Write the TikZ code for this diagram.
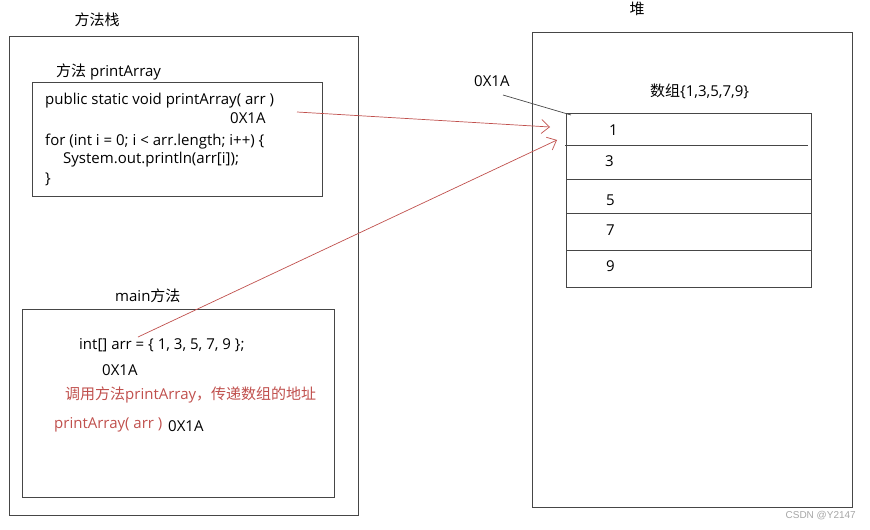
\documentclass[tikz,border=0pt]{standalone}
\usepackage{fontspec}
\setmainfont{Open Sans}
\newfontfamily\cjkf{Noto Sans CJK SC}
\newcommand{\zh}[1]{{\cjkf #1}}
\newfontfamily\wmfont{Liberation Sans}
\usetikzlibrary{arrows.meta}
\definecolor{redline}{RGB}{192,80,77}
\definecolor{boxline}{RGB}{70,70,70}
\tikzset{
  frame/.style={draw=boxline, line width=0.9pt},
  txt/.style={inner sep=0pt, anchor=west, font=\fontsize{15}{17}\selectfont},
  lbl/.style={inner sep=0pt, font=\fontsize{15}{17}\selectfont},
  redtxt/.style={txt, text=redline},
  ptr/.style={draw=redline, line width=0.7pt, -{Straight Barb[length=8pt,width=14pt,line width=0.7pt]}},
}
\begin{document}
\begin{tikzpicture}[x=1pt,y=-1pt]
\useasboundingbox (0,0) rectangle (870,530);
% stack
\node[lbl] (stacklbl) at (97,20) {\zh{方法栈}};
\draw[frame] (9,36) rectangle (358,515);
\node[lbl, anchor=west] (palbl) at (56,72) {\zh{方法} printArray};
\draw[frame] (32,82) rectangle (322,196);
\node[txt] (sig) at (45,101) {public static void printArray( arr )};
\node[txt] (addr1) at (230,118) {0X1A};
\node[txt] (for) at (45,142) {for (int i = 0; i < arr.length; i++) \{};
\node[txt] (print) at (63,160) {System.out.println(arr[i]);};
\node[txt] (close) at (45,179) {\}};
\coordinate (sigend) at (297,112);
% main
\node[lbl, anchor=west] (mainlbl) at (115,296) {main\zh{方法}};
\draw[frame] (22,309) rectangle (334,497);
\node[txt] (decl) at (79,345) {int[] arr = \{ 1, 3, 5, 7, 9 \};};
\coordinate (declend) at (138,337);
\node[txt] (addr2) at (102,370) {0X1A};
\node[redtxt] (call) at (65,395) {\zh{调用方法}printArray\zh{，传递数组的地址}};
\node[redtxt] (callstmt) at (54,425) {printArray( arr )};
\node[txt] (addr3) at (168,426) {0X1A};
% heap
\node[lbl] (heaplbl) at (637,9) {\zh{堆}};
\draw[frame] (532,32) rectangle (852,507);
\node[txt] (addr4) at (474,81) {0X1A};
\node[txt] (arrlbl) at (650,91) {\zh{数组}\{1,3,5,7,9\}};
\draw[frame] (566,113) rectangle (811,287);
\draw[boxline, line width=0.9pt] (565,145) -- (808,145);
\draw[boxline, line width=0.9pt] (566,179) -- (811,179);
\draw[boxline, line width=0.9pt] (566,213) -- (811,213);
\draw[boxline, line width=0.9pt] (566,250) -- (811,250);
\node[txt] (v1) at (609,130) {1};
\node[txt] (v3) at (605,161) {3};
\node[txt] (v5) at (606,200) {5};
\node[txt] (v7) at (606,230) {7};
\node[txt] (v9) at (606,266) {9};
\coordinate (arrtop) at (571,115);
\coordinate (tip1) at (550,127);
\coordinate (tip2) at (557,140);
\draw[boxline, line width=0.7pt] (503,95) -- (arrtop);
\draw[ptr] (sigend) -- (tip1);
\draw[ptr] (declend) -- (tip2);
% watermark
\node[inner sep=0pt, anchor=east, text=gray!70, font=\wmfont\fontsize{10}{12}\selectfont] (wm) at (856,516) {CSDN @Y2147};
\end{tikzpicture}
\end{document}
